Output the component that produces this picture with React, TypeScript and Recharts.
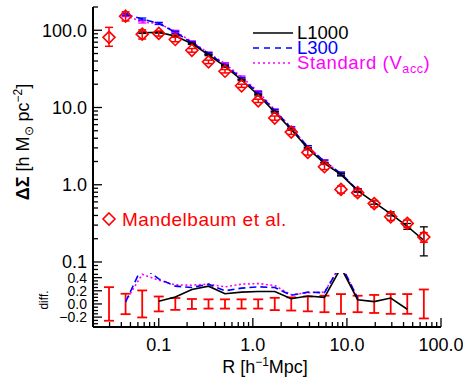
import React from "react"
import { ComposedChart, Line, Scatter, XAxis, YAxis, ErrorBar } from "recharts"

// projected radius bins [h^-1 Mpc]
const R = [0.0296, 0.0444, 0.0667, 0.1, 0.15, 0.225, 0.338, 0.506, 0.759, 1.14, 1.71, 2.56, 3.84, 5.77, 8.65, 13.0, 19.5, 29.2, 43.8, 65.7]

// Mandelbaum et al. measurements
const OBS = [81, 152, 89, 91, 76, 55, 39, 29.5, 19.1, 12.2, 7.3, 4.8, 2.62, 1.71, 0.87, 0.79, 0.57, 0.385, 0.316, 0.21]
const OBS_ERR: (number | number[])[] = [[19, 28], [20, 21], 12, 7, 5, 3, 2, 1.5, 0.9, 0.6, 0.45, 0.32, 0.2, 0.14, 0.09, 0.07, 0.055, 0.04, 0.033, 0.03]

// model curves
const L1000 = [null, null, 93, 94, 84, 67, 48, 34, 22.7, 14.5, 8.7, 5.2, 2.96, 1.89, 1.35, 0.84, 0.59, 0.42, 0.29, 0.19]
const L1000_ERR: (number | number[] | null)[] = [null, null, 2, 2, 2, 1.5, 1.1, 0.8, 0.5, 0.35, 0.2, 0.13, 0.08, 0.06, 0.05, 0.035, 0.03, 0.025, 0.025, [0.07, 0.095]]
const L300 = [null, 160, 140, 123, 94, 69, 50, 35.4, 23.7, 15.5, 9.1, 5.4, 3.09, 2.0, 1.4, 0.85]
const L300_ERR = [null, 5, 4, 3.5, 2.8, 2, 1.5, 1.1, 0.8, 0.5, 0.3, 0.2, 0.12, 0.08, 0.06, 0.04]
const STD = [null, 155, 128, 122, 97, 71, 50.6, 37, 24.8, 16, 9.3, 5.46, 3.09, 2.02, 1.38, 0.85]
const STD_ERR = [null, 5, 4, 3.5, 2.8, 2, 1.5, 1.1, 0.8, 0.5, 0.3, 0.2, 0.12, 0.08, 0.06, 0.04]

// fractional differences (bottom panel)
const D_L1000 = [null, null, null, 0.04, 0.105, 0.22, 0.27, 0.155, 0.18, 0.19, 0.19, 0.08, 0.12, 0.1, 0.55, 0.065, 0.035, 0.09, -0.08]
const D_L300 = [null, 0.03, 0.57, 0.38, 0.27, 0.25, 0.3, 0.2, 0.24, 0.26, 0.25, 0.13, 0.18, 0.17, 0.6, 0.09]
const D_STD = [null, 0.04, 0.45, 0.36, 0.29, 0.285, 0.3, 0.26, 0.3, 0.31, 0.28, 0.14, 0.17, 0.18, 0.6, 0.08]
const D_ERR = [0.255, 0.155, 0.205, 0.113, 0.09, 0.075, 0.07, 0.07, 0.07, 0.07, 0.093, 0.1, 0.112, 0.125, 0.15, 0.125, 0.137, 0.15, 0.15, 0.22]

const X_DOMAIN = [0.02, 100]
const Y_DOMAIN = [0.072, 200]
const D_DOMAIN = [-0.35, 0.47]
const D_TICKS = [-0.3, -0.25, -0.2, -0.15, -0.1, -0.05, 0, 0.05, 0.1, 0.15, 0.2, 0.25, 0.3, 0.35, 0.4, 0.45]

const FONT = "'Liberation Sans', Arial, Helvetica, sans-serif"
const RED = "#ff0000"
const BLUE = "#0000ff"
const MAGENTA = "#ff00ff"

function logTicks(lo: number, hi: number) {
  const out: number[] = []
  for (let e = -3; e <= 3; e++)
    for (let m = 1; m <= 9; m++) {
      const v = +(m * Math.pow(10, e)).toPrecision(6)
      if (v >= lo && v <= hi) out.push(v)
    }
  return out
}
const X_TICKS = logTicks(X_DOMAIN[0], X_DOMAIN[1])
const Y_TICKS = logTicks(Y_DOMAIN[0], Y_DOMAIN[1])

const isDecade = (v: number) => Math.abs(Math.log10(v) - Math.round(Math.log10(v))) < 1e-6
const isFifth = (v: number) => Math.abs(v * 5 - Math.round(v * 5)) < 1e-6
const fmt = (v: number) => v.toFixed(1).replace("-", "\u2212")

const topRows = R.map((r, i) => ({
  r,
  obs: OBS[i],
  obsErr: OBS_ERR[i],
  l1000: L1000[i] ?? null,
  l1000Err: L1000_ERR[i] ?? null,
  l300: L300[i] ?? null,
  l300Err: L300_ERR[i] ?? null,
  std: STD[i] ?? null,
  stdErr: STD_ERR[i] ?? null,
}))

const diffRows = R.map((r, i) => ({
  r,
  zero: 0,
  err: D_ERR[i],
  dL1000: D_L1000[i] ?? null,
  dL300: D_L300[i] ?? null,
  dStd: D_STD[i] ?? null,
}))

const tickX = (side: "top" | "bottom", labels: boolean) => (p: any) => {
  const v = p.payload.value
  const major = isDecade(v)
  const len = major ? 9 : 5
  const y2 = side === "bottom" ? p.y - len : p.y + len
  return (
    <g>
      <line x1={p.x} x2={p.x} y1={p.y} y2={y2} stroke="#000" strokeWidth={1.3} />
      {labels && major ? (
        <text x={p.x} y={p.y + 24} textAnchor="middle" fontSize={18} fontFamily={FONT} fill="#000">
          {fmt(v)}
        </text>
      ) : null}
    </g>
  )
}

const tickY = (side: "left" | "right", major: (v: number) => boolean, labelSize: number) => (p: any) => {
  const v = p.payload.value
  const big = major(v)
  const len = big ? 9 : 5
  const x2 = side === "left" ? p.x + len : p.x - len
  return (
    <g>
      <line x1={p.x} x2={x2} y1={p.y} y2={p.y} stroke="#000" strokeWidth={1.3} />
      {side === "left" && big && labelSize > 0 ? (
        <text x={p.x - 6} y={p.y + labelSize * 0.36} textAnchor="end" fontSize={labelSize} fontFamily={FONT} fill="#000">
          {fmt(v)}
        </text>
      ) : null}
    </g>
  )
}

const Diamond = (p: any) => {
  const { cx, cy } = p
  if (cx == null || cy == null) return <g />
  return <path d={`M${cx},${cy - 6}L${cx + 6},${cy}L${cx},${cy + 6}L${cx - 6},${cy}Z`} fill="none" stroke={RED} strokeWidth={1.6} />
}

const axisLine = { stroke: "#000", strokeWidth: 2 }

function TopPanel() {
  return (
    <ComposedChart width={463} height={275} data={topRows} margin={{ top: 7, right: 22, bottom: 2, left: 0 }}>
      <XAxis dataKey="r" type="number" scale="log" domain={X_DOMAIN} allowDataOverflow ticks={X_TICKS} interval={0}
        height={0} tickSize={0} tickMargin={0} tickLine={false} axisLine={axisLine} tick={tickX("bottom", false)} />
      <XAxis xAxisId="top" orientation="top" dataKey="r" type="number" scale="log" domain={X_DOMAIN} allowDataOverflow ticks={X_TICKS} interval={0}
        height={0} tickSize={0} tickMargin={0} tickLine={false} axisLine={axisLine} tick={tickX("top", false)} />
      <YAxis type="number" scale="log" domain={Y_DOMAIN} allowDataOverflow ticks={Y_TICKS} interval={0}
        width={93} tickSize={0} tickMargin={0} tickLine={false} axisLine={axisLine} tick={tickY("left", isDecade, 18)} />
      <YAxis yAxisId="right" orientation="right" type="number" scale="log" domain={Y_DOMAIN} allowDataOverflow ticks={Y_TICKS} interval={0}
        width={0} tickSize={0} tickMargin={0} tickLine={false} axisLine={axisLine} tick={tickY("right", isDecade, 0)} />
      <Line dataKey="std" stroke={MAGENTA} strokeWidth={1.6} strokeDasharray="2 2.5" dot={false} activeDot={false} isAnimationActive={false}>
        <ErrorBar dataKey="stdErr" direction="y" width={4} stroke={MAGENTA} strokeWidth={1.3} />
      </Line>
      <Line dataKey="l300" stroke={BLUE} strokeWidth={1.6} strokeDasharray="7 4" dot={false} activeDot={false} isAnimationActive={false}>
        <ErrorBar dataKey="l300Err" direction="y" width={4} stroke={BLUE} strokeWidth={1.3} />
      </Line>
      <Line dataKey="l1000" stroke="#000" strokeWidth={1.6} dot={false} activeDot={false} isAnimationActive={false}>
        <ErrorBar dataKey="l1000Err" direction="y" width={4} stroke="#000" strokeWidth={1.3} />
      </Line>
      <Scatter dataKey="obs" shape={Diamond} isAnimationActive={false}>
        <ErrorBar dataKey="obsErr" direction="y" width={4} stroke={RED} strokeWidth={1.5} />
      </Scatter>
    </ComposedChart>
  )
}

function DiffPanel() {
  return (
    <ComposedChart width={463} height={122} data={diffRows} margin={{ top: 15, right: 22, bottom: 0, left: 0 }}>
      <XAxis dataKey="r" type="number" scale="log" domain={X_DOMAIN} allowDataOverflow ticks={X_TICKS} interval={0}
        height={53} tickSize={0} tickMargin={0} tickLine={false} axisLine={axisLine} tick={tickX("bottom", true)} />
      <XAxis xAxisId="top" orientation="top" dataKey="r" type="number" scale="log" domain={X_DOMAIN} allowDataOverflow ticks={X_TICKS} interval={0}
        height={0} tickSize={0} tickMargin={0} tickLine={false} axisLine={axisLine} tick={tickX("top", false)} />
      <YAxis type="number" domain={D_DOMAIN} allowDataOverflow ticks={D_TICKS} interval={0}
        width={93} tickSize={0} tickMargin={0} tickLine={false} axisLine={axisLine} tick={tickY("left", isFifth, 14)} />
      <YAxis yAxisId="right" orientation="right" type="number" domain={D_DOMAIN} allowDataOverflow ticks={D_TICKS} interval={0}
        width={0} tickSize={0} tickMargin={0} tickLine={false} axisLine={axisLine} tick={tickY("right", isFifth, 0)} />
      <Scatter dataKey="zero" shape={() => <g />} isAnimationActive={false}>
        <ErrorBar dataKey="err" direction="y" width={5} stroke={RED} strokeWidth={1.8} />
      </Scatter>
      <Line dataKey="dStd" stroke={MAGENTA} strokeWidth={1.6} strokeDasharray="2 2.5" dot={false} activeDot={false} isAnimationActive={false} />
      <Line dataKey="dL300" stroke={BLUE} strokeWidth={1.6} strokeDasharray="7 4" dot={false} activeDot={false} isAnimationActive={false} />
      <Line dataKey="dL1000" stroke="#000" strokeWidth={1.6} dot={false} activeDot={false} isAnimationActive={false} />
    </ComposedChart>
  )
}

function Labels() {
  return (
    <svg width={463} height={380} style={{ position: "absolute", left: 0, top: 0, pointerEvents: "none" }} fontFamily={FONT}>
      {/* legend */}
      <line x1={253} x2={293} y1={33} y2={33} stroke="#000" strokeWidth={1.6} />
      <text x={297} y={38.5} fontSize={18.5} fill="#000">L1000</text>
      <line x1={253} x2={293} y1={48} y2={48} stroke={BLUE} strokeWidth={1.6} strokeDasharray="6 5" />
      <text x={297} y={53.5} fontSize={18.5} fill={BLUE}>L300</text>
      <line x1={253} x2={293} y1={63} y2={63} stroke={MAGENTA} strokeWidth={1.6} strokeDasharray="2 3" />
      <text x={297} y={68.5} fontSize={18.5} fill={MAGENTA} letterSpacing={0.6}>
        Standard (V<tspan dy={4} fontSize={12.5}>acc</tspan><tspan dy={-4}>)</tspan>
      </text>
      <path d="M109,213L115,219L109,225L103,219Z" fill="none" stroke={RED} strokeWidth={1.6} />
      <text x={122} y={226} fontSize={19} fill={RED} letterSpacing={0.5}>Mandelbaum et al.</text>
      {/* axis titles */}
      <text x={29} y={142} fontSize={18} textAnchor="middle" transform="rotate(-90 29 142)" fill="#000">
        <tspan fontWeight="bold">ΔΣ</tspan> [h M<tspan dy={4} fontSize={12}>⊙</tspan><tspan dy={-4}> pc</tspan>
        <tspan dy={-7} fontSize={12}>−2</tspan><tspan dy={7}>]</tspan>
      </text>
      <text x={48} y={300} fontSize={12} textAnchor="middle" transform="rotate(-90 48 300)" fill="#000">diff.</text>
      <text x={265} y={373} fontSize={18} textAnchor="middle" fill="#000">
        R [h<tspan dy={-7} fontSize={12}>−1</tspan><tspan dy={7}>Mpc]</tspan>
      </text>
    </svg>
  )
}

export default function App() {
  return (
    <div style={{ position: "absolute", left: 0, top: 0, width: 463, height: 380, background: "#fff", overflow: "hidden" }}>
      <div style={{ position: "absolute", left: 0, top: 0 }}>
        <TopPanel />
      </div>
      <div style={{ position: "absolute", left: 0, top: 258 }}>
        <DiffPanel />
      </div>
      <Labels />
    </div>
  )
}
